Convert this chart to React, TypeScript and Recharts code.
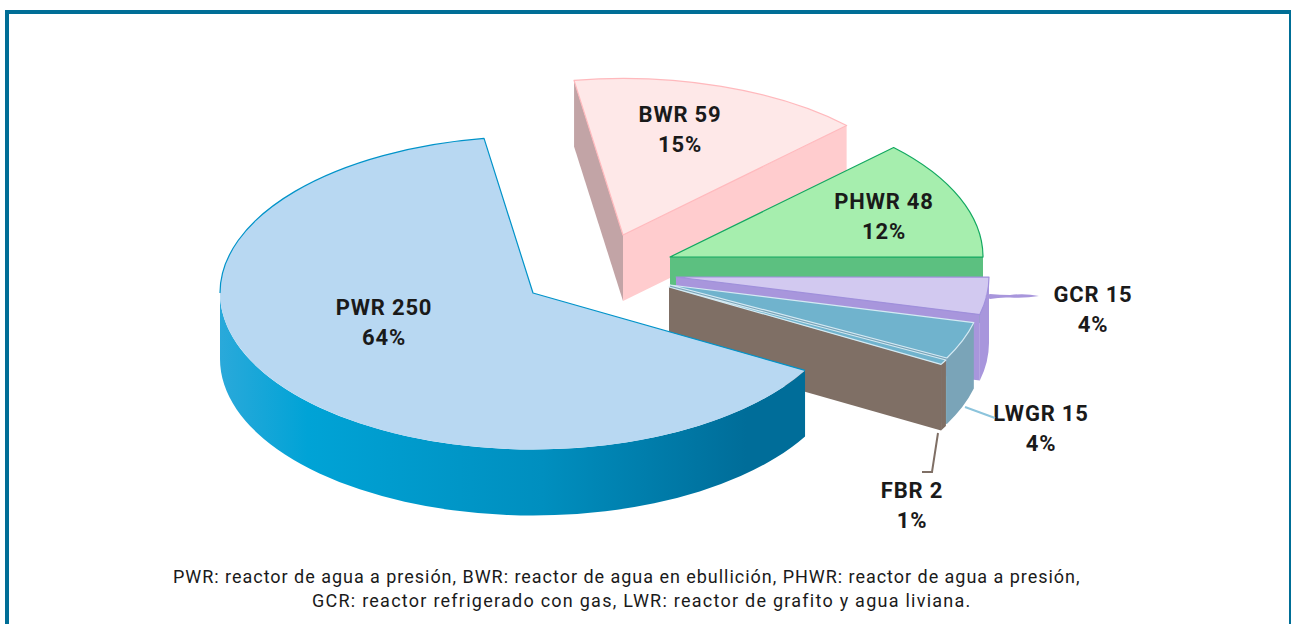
import React from 'react';
import { PieChart, Pie } from 'recharts';

// order runs clockwise from the top, which is also back to front
const reactors = ['BWR', 'PHWR', 'GCR', 'LWGR', 'FBR', 'PWR'];
const units = [59, 48, 15, 15, 2, 250];
const percents = [15, 12, 4, 4, 1, 64];
const captionLines = [
    'PWR: reactor de agua a presión, BWR: reactor de agua en ebullición, PHWR: reactor de agua a presión,',
    'GCR: reactor refrigerado con gas, LWR: reactor de grafito y agua liviana.',
];

const data = reactors.map((name, i) => ({ name, value: units[i], percent: percents[i] }));

const W = 1291;
const H = 624;
const SQUASH = 0.5;
const DEPTH = 66;

// how far each slice is pulled out of the pie, in px
const explode = [[90, -58], [137, -36], [143, -16], [137, -8], [136, -6], [0, 0]];
const topFill = ['#fee8e8', '#a6eeae', '#d2c9f0', '#70b3cd', '#70b3cd', '#b8d8f2'];
const edge = ['#ffb9bd', '#12a860', '#a08fdc', '#d4eaf3', '#d4eaf3', '#0093c9'];
const wallFill = ['#ffccce', '#5cc080', '#a896dc', '#7aa4b8', '#7f6f65', 'url(#pwrWall)'];
const backWallFill = ['#c2a4a6', '', '', '', '', ''];
const labelAt = [[680, 116], [884, 203], [1093, 296], [1041, 415], [912, 492], [384, 309]];
const captionLeft = [173, 312];
const captionSpacing = [0.97, 1.25];

const rad = (a: number) => (a * Math.PI) / 180;

function Slice3D(props: any) {
    const { cx, cy, outerRadius: r, startAngle, endAngle, index } = props;
    const [dx, dy] = explode[index];
    const x0 = cx + dx;
    const y0 = cy + dy;
    const ry = r * SQUASH;
    const hi = Math.max(startAngle, endAngle);
    const lo = Math.min(startAngle, endAngle);
    const px = (a: number) => x0 + r * Math.cos(rad(a));
    const py = (a: number) => y0 - ry * Math.sin(rad(a));

    const radialWall = (a: number) =>
        `M${x0},${y0} L${px(a)},${py(a)} L${px(a)},${py(a) + DEPTH} L${x0},${y0 + DEPTH} Z`;

    // only the lower half of the rim faces the viewer
    const aFrom = Math.min(hi, 0);
    const aTo = Math.max(lo, -180);
    const rimWall =
        aFrom > aTo
            ? `M${px(aFrom)},${py(aFrom)} A${r},${ry} 0 0 1 ${px(aTo)},${py(aTo)} ` +
              `L${px(aTo)},${py(aTo) + DEPTH} A${r},${ry} 0 0 0 ${px(aFrom)},${py(aFrom) + DEPTH} Z`
            : null;

    const large = hi - lo > 180 ? 1 : 0;
    const top = `M${x0},${y0} L${px(hi)},${py(hi)} A${r},${ry} 0 ${large} 1 ${px(lo)},${py(lo)} Z`;
    // the big slice has no outline along its front rim
    const outline = large
        ? `M${px(hi)},${py(hi)} L${x0},${y0} L${px(lo)},${py(lo)} A${r},${ry} 0 0 0 ${px(-180)},${py(-180)}`
        : top;

    return (
        <g>
            {backWallFill[index] && <path d={radialWall(hi)} fill={backWallFill[index]} />}
            {Math.cos(rad(lo)) > 0 && <path d={radialWall(lo)} fill={wallFill[index]} />}
            {rimWall && <path d={rimWall} fill={wallFill[index]} />}
            <path d={top} fill={topFill[index]} />
            <path d={outline} fill="none" stroke={edge[index]} strokeWidth={1.2} strokeLinejoin="round" />
        </g>
    );
}

function SliceLabel(props: any) {
    const { index } = props;
    const [x, y] = labelAt[index];
    const item = data[index];
    return (
        <text
            x={x}
            y={y}
            textAnchor="middle"
            fill="#1a1a1a"
            fontFamily="Roboto, sans-serif"
            fontWeight={700}
            fontSize={22}
            letterSpacing={0.8}
            dominantBaseline="middle"
        >
            <tspan x={x}>{`${item.name} ${item.value}`}</tspan>
            <tspan x={x} dy={29.5}>{`${item.percent}%`}</tspan>
        </text>
    );
}

export default function App() {
    return (
        <div style={{ position: 'absolute', left: 0, top: 0, width: W, height: H, overflow: 'hidden', background: '#fff' }}>
            <div
                style={{
                    position: 'absolute',
                    left: 5,
                    top: 10,
                    width: 1280,
                    height: 640,
                    border: '4px solid #006e96',
                }}
            />
            <PieChart width={W} height={H} margin={{ top: 0, right: 0, bottom: 0, left: 0 }} style={{ position: 'absolute', left: 0, top: 0 }}>
                <defs>
                    <linearGradient id="pwrWall" x1="0" y1="0" x2="1" y2="0">
                        <stop offset="0%" stopColor="#2aa9da" />
                        <stop offset="15%" stopColor="#00a3d6" />
                        <stop offset="55%" stopColor="#008fbf" />
                        <stop offset="90%" stopColor="#006d99" />
                        <stop offset="100%" stopColor="#006d99" />
                    </linearGradient>
                </defs>
                <Pie
                    data={data}
                    dataKey="value"
                    nameKey="name"
                    cx={533}
                    cy={293}
                    innerRadius={0}
                    outerRadius={313}
                    startAngle={99}
                    endAngle={-261}
                    stroke="none"
                    shape={Slice3D}
                    inactiveShape={Slice3D}
                    label={SliceLabel}
                    labelLine={false}
                    isAnimationActive={false}
                />
            </PieChart>
            <svg width={W} height={H} style={{ position: 'absolute', left: 0, top: 0, pointerEvents: 'none' }}>
                <path
                    d="M985,296 L990,294 Q1000,295 1010,295 Q1025,293 1039,296 Q1025,298.5 1010,297.5 Q1000,297 990,299 Z"
                    fill="#a896dc"
                />
                <path d="M965,407 L995,418" stroke="#8cc4dc" strokeWidth={2} fill="none" />
                <path d="M938,433 L932,472 L922,472" stroke="#7f6f65" strokeWidth={2} fill="none" />
            </svg>
            {captionLines.map((line, i) => (
                <div
                    key={line}
                    style={{
                        position: 'absolute',
                        left: captionLeft[i],
                        top: 565 + i * 24,
                        fontFamily: 'Roboto, sans-serif',
                        fontSize: 18,
                        lineHeight: '24px',
                        letterSpacing: captionSpacing[i],
                        color: '#1a1a1a',
                        whiteSpace: 'nowrap',
                    }}
                >
                    {line}
                </div>
            ))}
        </div>
    );
}
